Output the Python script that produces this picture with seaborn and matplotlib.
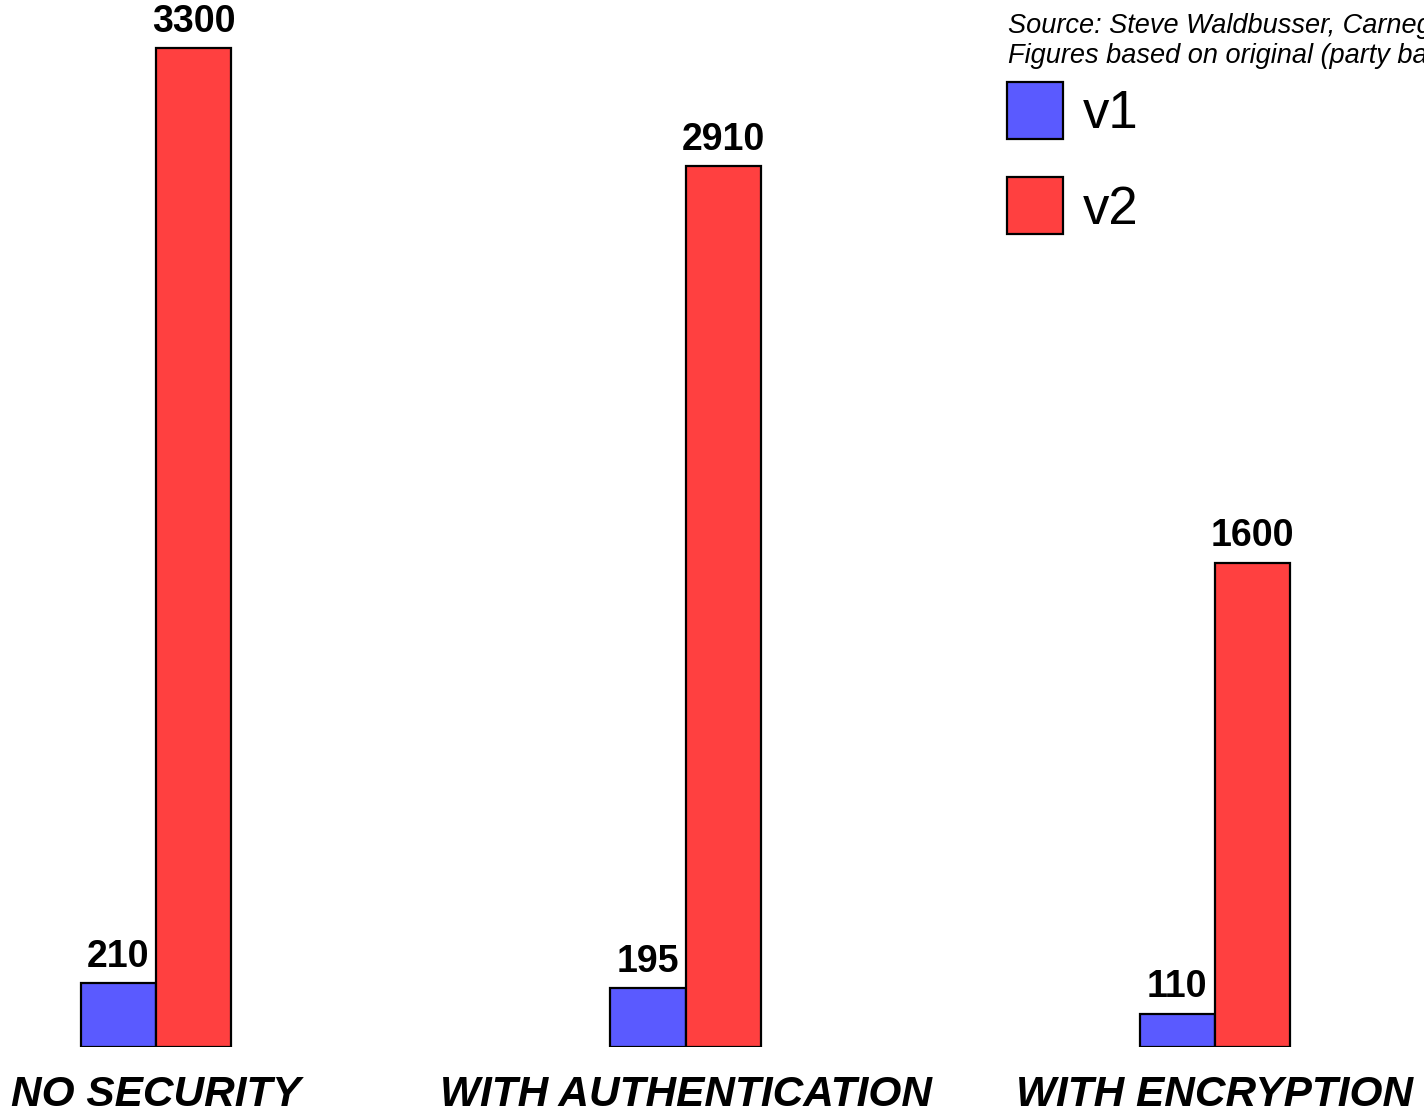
import matplotlib
matplotlib.use("Agg")
import matplotlib.pyplot as plt
import seaborn as sns
import pandas as pd

categories = ["NO SECURITY", "WITH AUTHENTICATION", "WITH ENCRYPTION"]
v1_values = [210, 195, 110]
v2_values = [3300, 2910, 1600]
series_names = ["v1", "v2"]
source_lines = [
    "Source: Steve Waldbusser, Carnegie Mellon University",
    "Figures based on original (party based) SNMPv2 security",
]

colors = ["#5a5aff", "#ff4040"]

sns.set_theme(style="white")
plt.rcParams["font.family"] = ["Liberation Sans", "DejaVu Sans"]
plt.rcParams["text.color"] = "black"
plt.rcParams["xtick.color"] = "black"
plt.rcParams["xtick.labelcolor"] = "black"

df = pd.DataFrame({
    "category": categories * 2,
    "value": v1_values + v2_values,
    "version": [series_names[0]] * 3 + [series_names[1]] * 3,
})

W, H = 1424, 1115
fig = plt.figure(figsize=(W / 100, H / 100), dpi=100)
ax = fig.add_axes([0, 68 / H, 1, 1047 / H])

sns.barplot(data=df, x="category", y="value", hue="version",
            palette=colors, saturation=1, width=0.285,
            edgecolor="black", linewidth=1.6, ax=ax)

ax.set_xlim(-156 / 529.5, (W - 156) / 529.5)
ax.set_ylim(0, 1047 * 3300 / 999)

for cont in ax.containers:
    ax.bar_label(cont, padding=6, fontsize=27, fontweight="bold", color="black")

for s in ax.spines.values():
    s.set_visible(False)
ax.set_yticks([])
ax.set_xlabel("")
ax.set_ylabel("")
ax.tick_params(axis="x", length=0, pad=20)
for lab in ax.get_xticklabels():
    lab.set_fontsize(30.5)
    lab.set_fontweight("bold")
    lab.set_fontstyle("italic")
    lab.set_color("black")

handles, labels = ax.get_legend_handles_labels()
leg = ax.legend(handles, labels, loc="upper left",
                bbox_to_anchor=(1007 / W, 1 - 82 / H), bbox_transform=fig.transFigure,
                frameon=False, fontsize=38, handlelength=1.06, handleheight=1.29,
                handletextpad=0.38, labelspacing=0.72, borderpad=0, borderaxespad=0)
for t in leg.get_texts():
    t.set_color("black")

fig.text(1008 / W, 1 - 33 / H, source_lines[0], fontsize=19.5, style="italic", va="baseline")
fig.text(1008 / W, 1 - 63 / H, source_lines[1], fontsize=19.5, style="italic", va="baseline")

fig.savefig("out.png", dpi=100)
